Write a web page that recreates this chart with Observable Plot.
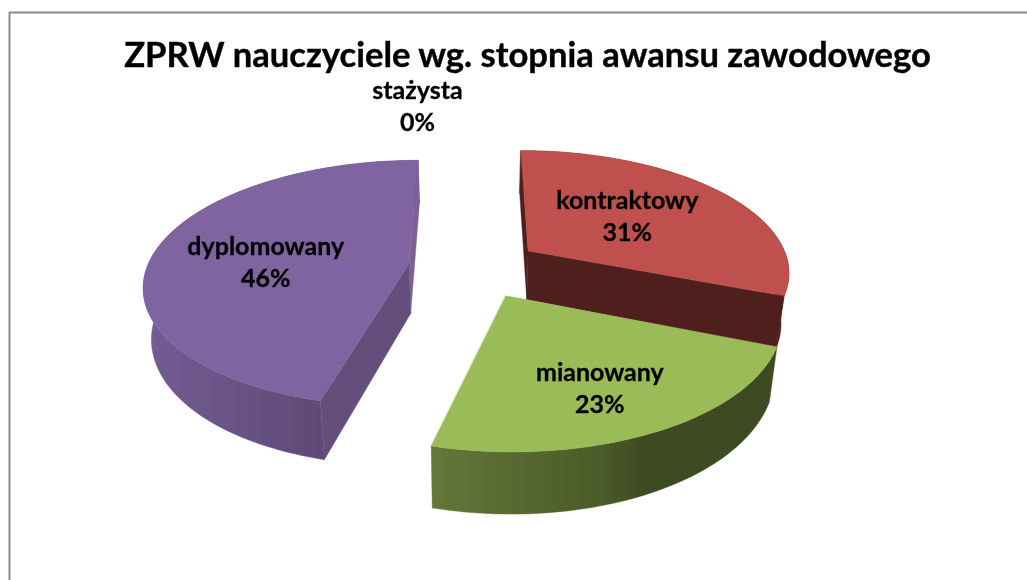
<!DOCTYPE html>
<html lang="pl">
<head>
<meta charset="utf-8">
<script src="https://cdn.jsdelivr.net/npm/d3@7"></script>
<script src="https://cdn.jsdelivr.net/npm/@observablehq/plot@0.6"></script>
<style>
  html, body { margin: 0; padding: 0; background: #fff; }
  svg { display: block; filter: blur(0.4px); }
</style>
</head>
<body>
<div id="chart"></div>
<script>
// ---- data ----
const chartTitle = "ZPRW nauczyciele wg. stopnia awansu zawodowego";
const categories = ["kontraktowy", "mianowany", "dyplomowany", "stażysta"];
const percents = [31, 23, 46, 0];

// ---- 3D pie view (camera model, not data) ----
const view = {cx: 474, cy: 267, rx: 262, ry: 121, persp: 0.16, explode: 0.253, depth: 50, shrink: 0.975};
const topColors = ["#c0504d", "#9bbb59", "#8064a2", "#4bacc6"];
const cutColors = ["#4f1f1e", "#4f1f1e", "#644e7c", "#4bacc6"];
const sideFills = ["#4f1f1e", "url(#sideGreen)", "url(#sidePurple)", "#4bacc6"];
const labelNudge = [[0, -5], [25, 28], [-16, 4.5], [-57, -36.5]];
const rad = (deg) => (deg * Math.PI) / 180;

function project(X, Y, lower) {
  const s = 1 / (1 + view.persp * Y);
  const px = view.rx * X * s;
  const py = -view.ry * Y * s;
  return lower
    ? {x: view.cx + px * view.shrink, y: view.cy + py + view.depth * s}
    : {x: view.cx + px, y: view.cy + py};
}

// slice angles come from the values, clockwise from the back of the pie
const total = d3.sum(percents);
let running = 0;
const slices = categories.map((name, i) => {
  const a0 = (running / total) * 360;
  running += percents[i];
  const a1 = (running / total) * 360;
  const mid = (a0 + a1) / 2;
  const ox = view.explode * Math.sin(rad(mid));
  const oy = view.explode * Math.cos(rad(mid));
  const rim = (a) => [ox + Math.sin(rad(a)), oy + Math.cos(rad(a))];
  const angles = d3.range(a0, a1, 1.5).concat([a1]);
  return {name, i, a0, a1, mid, ox, oy, rim, angles};
});

function faces(sl) {
  const top = [project(sl.ox, sl.oy), ...sl.angles.map((a) => project(...sl.rim(a)))];
  const side = [
    ...sl.angles.map((a) => project(...sl.rim(a))),
    ...sl.angles.slice().reverse().map((a) => project(...sl.rim(a), true))
  ];
  const cut = (a) => [
    project(sl.ox, sl.oy),
    project(...sl.rim(a)),
    project(...sl.rim(a), true),
    project(sl.ox, sl.oy, true)
  ];
  return {top, side, cutStart: cut(sl.a0), cutEnd: cut(sl.a1)};
}

const polygon = (pts, fill) =>
  Plot.line(pts, {x: "x", y: "y", fill, stroke: fill, strokeWidth: 0.4, curve: "linear-closed"});

const gradients = () => {
  const ns = "http://www.w3.org/2000/svg";
  const defs = document.createElementNS(ns, "defs");
  const add = (id, stops) => {
    const g = document.createElementNS(ns, "linearGradient");
    g.setAttribute("id", id);
    for (const [offset, color] of stops) {
      const s = document.createElementNS(ns, "stop");
      s.setAttribute("offset", offset);
      s.setAttribute("stop-color", color);
      g.appendChild(s);
    }
    defs.appendChild(g);
  };
  add("sideGreen", [[0, "#64773a"], [0.5, "#4a5a29"], [0.62, "#3e4a22"], [1, "#3e4a22"]]);
  add("sidePurple", [[0, "#745c93"], [0.5, "#644e7d"], [1, "#553f69"]]);
  return defs;
};

const marks = [gradients];

// draw order: back slices first, front slice last
for (const idx of [2, 0, 1]) {
  const sl = slices[idx];
  const f = faces(sl);
  marks.push(polygon(f.side, sideFills[idx]));
  if (idx === 0) {
    marks.push(polygon(f.cutStart, cutColors[idx]));
    marks.push(polygon(f.cutEnd, cutColors[idx]));
  }
  if (idx === 2) {
    marks.push(polygon(f.cutEnd, "#7c6096"));
    marks.push(polygon(f.cutStart, cutColors[idx]));
  }
  marks.push(polygon(f.top, topColors[idx]));
}

// labels sit half-way along each slice's middle direction
const labelRows = slices.map((sl, i) => {
  const r = sl.a1 === sl.a0 ? 1 : 0.5;
  const p = project(sl.ox + r * Math.sin(rad(sl.mid)), sl.oy + r * Math.cos(rad(sl.mid)));
  return {
    x: p.x + labelNudge[i][0],
    y: p.y + labelNudge[i][1],
    text: `${sl.name}\n${percents[i]}%`
  };
});

const font = "Lato, 'Open Sans', sans-serif";

const chart = Plot.plot({
  width: 1027,
  height: 580,
  margin: 0,
  style: {background: "#fff"},
  x: {domain: [0, 1027], range: [0, 1027], axis: null},
  y: {domain: [0, 580], range: [0, 580], axis: null},
  marks: [
    Plot.ruleY([12], {x1: 9, x2: 1027, stroke: "#8a8a8a", strokeWidth: 2}),
    Plot.ruleX([9], {y1: 12, y2: 580, stroke: "#8a8a8a", strokeWidth: 2}),
    ...marks,
    Plot.text([chartTitle], {
      x: 527, y: 55, text: (d) => d, fontSize: 34.6, fontWeight: 700, fontFamily: font,
      fill: "#000", stroke: "#000", strokeWidth: 0.4
    }),
    ...labelRows.map((d) =>
      Plot.text([d], {
        x: "x", y: "y", text: "text", fontSize: 25, fontWeight: 700,
        fontFamily: font, fill: "#000", stroke: "#000", strokeWidth: 0.3, lineHeight: 32.5 / 25
      })
    )
  ]
});
document.getElementById("chart").appendChild(chart);
</script>
</body>
</html>
